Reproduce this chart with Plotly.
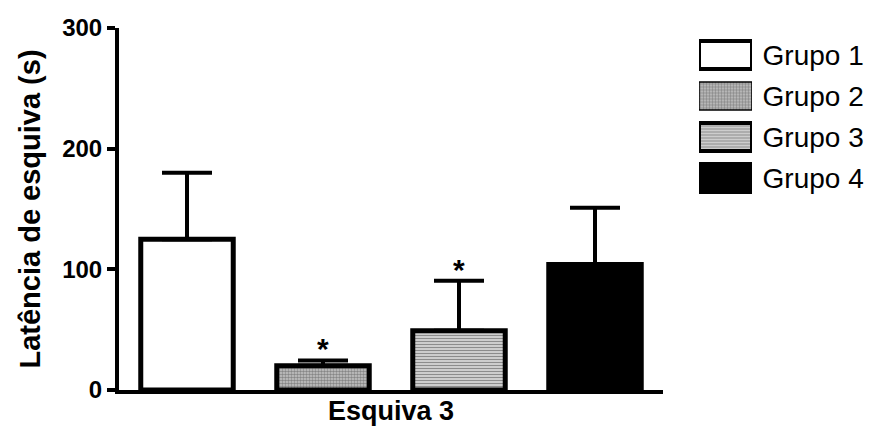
import plotly.graph_objects as go

# Avoidance latency, test session "Esquiva 3"
groups = ["Grupo 1", "Grupo 2", "Grupo 3", "Grupo 4"]
means = [125, 20, 49, 104]
sems = [55, 4.5, 41.5, 47]
significant = [False, True, True, False]
y_ticks = [0, 100, 200, 300]
key_len = [1, 1, 1, 1]

fill = ["white", "#c8c8c8", "#d4d4d4", "black"]
pat_shape = ["", ".", "-", ""]
pat_fg = ["black", "#3c3c3c", "#8a8a8a", "black"]
pat_bg = ["white", "#d8d8d8", "#dcdcdc", "black"]
pat_size = [4, 3, 3, 4]
pat_sol = [0.3, 0.55, 0.4, 0.3]

FONT = "Liberation Sans, Arial, sans-serif"

W, H = 870, 430
ML, MR, MT, MB = 119, 0, 28, 40
plot_w = W - ML - MR
plot_h = H - MT - MB
main_right = 663  # pixel where the category axis ends


def px_x(p):
    return (p - ML) / plot_w


def px_y(p):
    return 1 - (p - MT) / plot_h


fig = go.Figure()

fig.add_trace(go.Bar(
    x=groups, y=means,
    marker=dict(
        color=fill,
        line=dict(color="black", width=5),
        pattern=dict(shape=pat_shape, fgcolor=pat_fg, bgcolor=pat_bg,
                     size=pat_size, solidity=pat_sol),
    ),
    error_y=dict(type="data", array=sems, arrayminus=[0] * len(sems),
                 symmetric=False, thickness=4, width=25, color="black"),
    showlegend=False, hoverinfo="skip",
    xaxis="x", yaxis="y",
))

# Key: one swatch per group, names as tick labels on the right
fig.add_trace(go.Bar(
    y=groups, x=key_len, orientation="h",
    marker=dict(
        color=fill,
        line=dict(color="black", width=[4, 1.5, 4, 4]),
        pattern=dict(shape=pat_shape, fgcolor=pat_fg, bgcolor=pat_bg,
                     size=pat_size, solidity=pat_sol),
    ),
    showlegend=False, hoverinfo="skip",
    xaxis="x2", yaxis="y2",
))

for g, m, s, sig in zip(groups, means, sems, significant):
    if sig:
        fig.add_annotation(x=g, y=m + s, xref="x", yref="y", text="*",
                           showarrow=False, yanchor="bottom", yshift=-7,
                           font=dict(family=FONT, size=30, color="black",
                                     weight="bold"))

fig.update_layout(
    width=W, height=H,
    margin=dict(l=ML, r=MR, t=MT, b=MB, pad=0),
    paper_bgcolor="white", plot_bgcolor="white",
    font=dict(family=FONT, color="black"),
    bargap=0.32,
    barmode="overlay",
    xaxis=dict(
        domain=[0, px_x(main_right)],
        showline=True, linecolor="black", linewidth=4,
        showticklabels=False, ticks="", showgrid=False, zeroline=False,
        title=dict(text="Esquiva 3",
                   font=dict(size=27, weight="bold"), standoff=9),
        fixedrange=True,
    ),
    yaxis=dict(
        range=[0, 300], tickvals=y_ticks,
        showline=True, linecolor="black", linewidth=4,
        ticks="outside", ticklen=8, tickwidth=4, tickcolor="black",
        tickfont=dict(size=24, weight="bold"),
        showgrid=False, zeroline=False,
        title=dict(text="Latência de esquiva (s)",
                   font=dict(size=29, weight="bold"), standoff=14),
        fixedrange=True,
    ),
    xaxis2=dict(
        domain=[px_x(699), px_x(752)], anchor="y2", range=[0, 1],
        visible=False, fixedrange=True,
    ),
    yaxis2=dict(
        domain=[px_y(198.5), px_y(34.5)], anchor="x2",
        type="category", categoryorder="array", categoryarray=groups,
        autorange="reversed", side="right",
        showline=False, showgrid=False, zeroline=False,
        ticks="outside", ticklen=4, tickcolor="rgba(0,0,0,0)",
        tickfont=dict(size=28), fixedrange=True,
    ),
)

fig.write_html("out.html")
